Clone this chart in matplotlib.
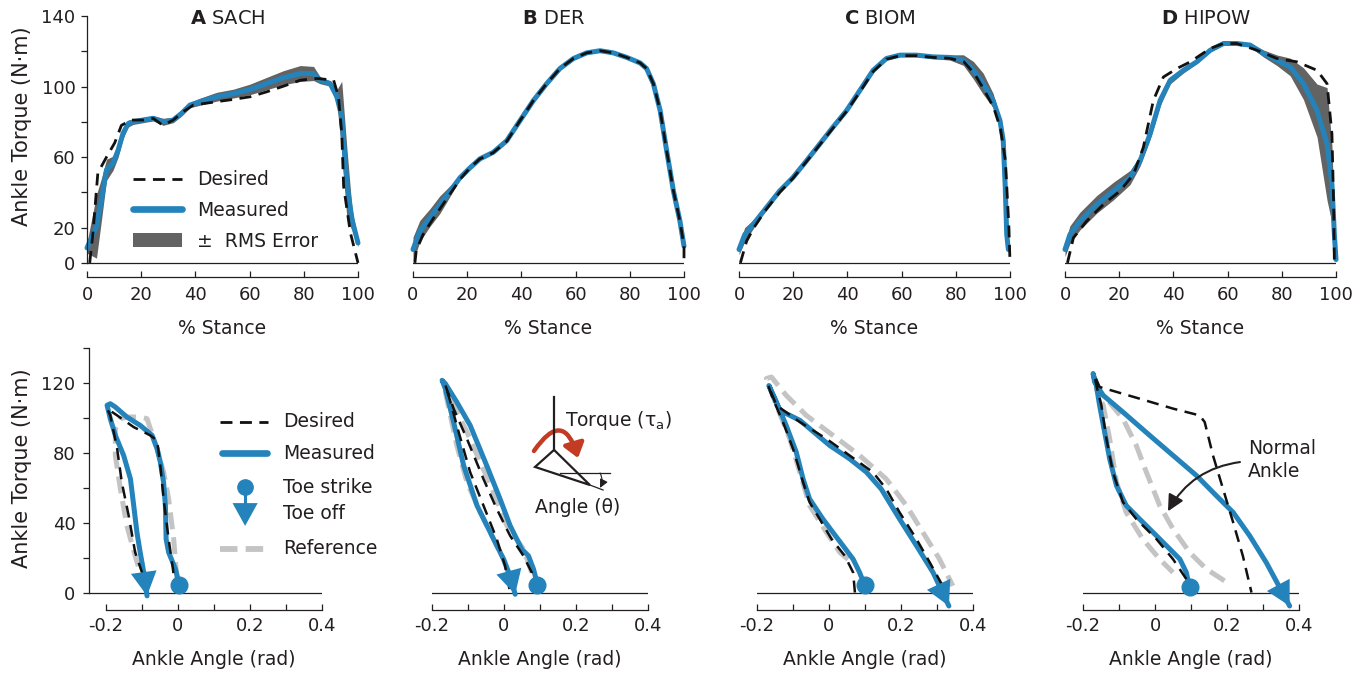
import numpy as np
import matplotlib.pyplot as plt
from matplotlib.lines import Line2D
from matplotlib.patches import Patch, Polygon, FancyArrowPatch

plt.rcParams['font.family'] = ['DejaVu Sans']
plt.rcParams['mathtext.fontset'] = 'dejavusans'

BLUE = '#2383ba'
BAND = '#636363'
REF = '#c4c4c4'
INK = '#231f20'

# ---------------- top row: torque vs % stance ----------------
titles = [('A', 'SACH'), ('B', 'DER'), ('C', 'BIOM'), ('D', 'HIPOW')]

sach_pct = [0, 3.5, 5.3, 7.2, 9.6, 11.5, 13.3, 15.2, 17, 20.7, 24.4, 28.1, 31.8, 34.9, 38, 41.7,
            47.8, 54, 60.2, 66.3, 72.5, 78.7, 83.6, 86, 89.7, 92.2, 94, 95.9, 97.8, 100]
sach_meas = [8.5, 20.7, 35.8, 52.8, 56.5, 64, 73.5, 79, 80, 81, 82, 80, 81, 84.8, 89.5, 91.4,
             94.2, 96, 98.4, 101.7, 105, 107.4, 107.4, 103.6, 101.7, 94.2, 83, 45, 24.5, 11.3]
sach_rms = [3, 18, 12, 6, 4, 4, 3, 2, 1.5, 1.5, 1.5, 2, 1.5, 1.5, 1.5, 2,
            2.5, 2.5, 3, 3.5, 4, 4.5, 4, 2, 1.5, 4, 20, 20, 6, 2]
sach_des_pct = [1, 2.2, 4, 7.2, 10.2, 12.7, 16.3, 20.7, 24.4, 28, 31.8, 35.5, 39.2, 47.8, 54,
                60.2, 66.3, 72.5, 78.7, 84.8, 91, 92.8, 94, 94.7, 97.2, 100]
sach_des = [0, 17, 51, 60, 68, 78, 81, 81, 82, 78, 81, 85.7, 89.5, 91.4, 92.7,
            94.2, 97, 100.2, 103.6, 104.6, 103.6, 94.2, 73.5, 43.3, 17, 0]

der_pct = [0, 2.5, 6.2, 9.9, 13.7, 17.4, 21.1, 24.7, 29.6, 34.6, 39.5, 44.4, 49.3, 54.2, 59.2,
           64.1, 69, 73.9, 78.9, 83.8, 86.2, 88.7, 91.2, 93.6, 96.1, 98.5, 100]
der_meas = [7.6, 18, 25.6, 33, 40.8, 48.4, 54, 59, 62.7, 69.3, 80.7, 92, 101.6, 110.2, 115.9,
            119.1, 120.3, 119.1, 116.5, 113.4, 110.2, 101.6, 86.4, 63.6, 40.8, 23.7, 9.5]
der_rms = [7, 6, 5, 5, 3, 1, 0.8, 0.8, 0.8, 0.8, 0.8, 0.8, 0.8, 0.8, 0.8,
           0.8, 0.8, 0.8, 0.8, 0.8, 0.8, 0.8, 0.8, 0.8, 0.8, 0.8, 0.8]
der_des_pct = [0.7, 1.2, 3.7, 7.4, 12.3, 17.4, 21.1, 24.7, 29.6, 34.6, 39.5, 44.4, 49.3, 54.2,
               59.2, 64.1, 69, 73.9, 78.9, 83.8, 86.2, 88.7, 91.2, 93.6, 96.1, 98.5, 100, 100]
der_des = [0, 7, 16, 25, 36, 47.5, 54, 59, 62.5, 69, 80.7, 92, 101.6, 110.2,
           115.9, 119.1, 120.3, 119.1, 116.5, 113.4, 110.2, 101.6, 86.4, 63.6, 40.8, 23.7, 9.5, 0]

biom_pct = [0, 2.1, 5.2, 10.1, 15, 19.9, 24.9, 29.8, 34.7, 39.7, 44.6, 49.5, 54.4, 59.4, 65.5,
            71.7, 77.8, 82.8, 86.5, 90.1, 93.8, 96.3, 97.5, 98.2, 98.8, 99.4]
biom_meas = [7.6, 16, 21.8, 31.3, 40.8, 48.4, 57.9, 67.4, 77, 86.4, 97.8, 109.2, 115.9, 117.8,
             117.8, 116.8, 116.5, 115, 109.2, 101.6, 92, 80.7, 69.3, 44.6, 16, 7.6]
biom_rms = [3, 4, 2.5, 1, 0.8, 0.8, 0.8, 0.8, 0.8, 0.8, 0.8, 0.8, 0.8, 0.8, 0.8,
            1, 1.5, 3, 5, 6, 4, 2, 1, 1, 1, 1]
biom_des_pct = [0.5, 2.8, 5.5, 10.1, 15, 19.9, 24.9, 29.8, 34.7, 39.7, 44.6, 49.5, 54.4, 59.4,
                65.5, 71.7, 77.8, 83, 87, 90.5, 94, 96.5, 98.3, 99.6, 100]
biom_des = [0, 12.3, 20, 30.5, 40, 48, 57.5, 67, 76.5, 86, 97, 108.5, 115.5, 117.5,
            117.5, 116.5, 116, 114, 107, 98, 88, 76, 58, 20, 0]

hipow_pct = [0, 1.8, 5.5, 11.7, 17.9, 24, 27.7, 31.4, 35.1, 38.8, 43.7, 48.6, 53.6, 58.5, 63.4,
             68.3, 73.3, 78.2, 83.1, 88, 93, 96.7, 98.5, 99.4, 100]
hipow_meas = [7.6, 16, 23.7, 33.2, 40.8, 48.4, 57.9, 73.1, 92.1, 103.5, 109.2, 114, 120.6, 124.4,
              124.4, 123.5, 118.7, 114.9, 111.1, 101.6, 86.4, 67.4, 44.6, 16, 1.9]
hipow_rms = [4, 5, 5, 5, 5, 4, 3, 3, 3, 2, 1.5, 1, 1, 0.8, 0.8,
             1, 2, 3, 5, 9, 15, 32, 22, 10, 2]
hipow_des_pct = [0.9, 3.1, 8, 14.2, 20.3, 25.3, 28.9, 32.6, 36.3, 41.3, 46.2, 53.6, 58.5, 63.4,
                 70.8, 78.2, 85.6, 93, 96.7, 98.5, 99.1, 99.4]
hipow_des = [0, 14.2, 23.7, 33.2, 40.8, 50.3, 65.5, 92.1, 105.4, 110.2, 114, 121.6, 124.4, 124.4,
             120.6, 115.9, 114, 109.2, 101.6, 73.1, 35.1, 0]

# ---------------- bottom row: torque vs ankle angle ----------------
sach_ang = [0.004, -0.007, -0.026, -0.033, -0.035, -0.04, -0.049, -0.058, -0.072, -0.105, -0.142,
            -0.174, -0.188, -0.197, -0.188, -0.174, -0.151, -0.132, -0.123, -0.114, -0.105,
            -0.095, -0.086]
sach_trq = [4.4, 13.4, 23, 30.6, 49.8, 63, 74.6, 82.3, 90, 95.7, 100.5,
            106.2, 108.1, 107.2, 99.5, 90, 78.5, 65, 49.8, 34.4, 23, 11.5, -1.9]
sach_des_ang = [-0.007, -0.014, -0.026, -0.04, -0.049, -0.058, -0.077, -0.123, -0.169, -0.197,
                -0.188, -0.169, -0.156, -0.137, -0.119, -0.1, -0.086]
sach_des_trq = [0, 13.4, 30.6, 53.6, 72.7, 87, 90, 94.7, 101.4, 105.3,
                101.4, 82.3, 63, 44, 23, 11.5, 0]
sach_ref_ang = [-0.003, -0.012, -0.026, -0.04, -0.058, -0.086, -0.105, -0.142, -0.16, -0.174,
                -0.174, -0.16, -0.142, -0.119, -0.105]
sach_ref_trq = [7.7, 30.6, 53.6, 69, 82.3, 99.5, 100.5, 100.5, 99.5, 93.8,
                78.5, 59.3, 38.3, 21, 11.5]

der_ang = [0.093, 0.082, 0.068, 0.049, 0.017, -0.011, -0.048, -0.094, -0.131, -0.163, -0.172,
           -0.163, -0.14, -0.112, -0.075, -0.038, -0.001, 0.017, 0.031]
der_trq = [4.4, 13.4, 21, 24.9, 38.3, 53.6, 72.7, 95.7, 109, 119.6, 121.5,
           116.7, 97.6, 72.7, 49.8, 34.4, 19, 9.6, -1]
der_des_ang = [0.082, 0.077, 0.054, 0.017, -0.02, -0.057, -0.103, -0.14, -0.163, -0.154, -0.126,
               -0.094, -0.057, -0.02, 0.003, 0.017]
der_des_trq = [0, 11.5, 21, 32.5, 47.8, 65, 88, 105.3, 118.7, 112.9, 91.9,
               68.9, 49.8, 30.6, 15.3, 0]
der_ref_ang = [0.077, 0.054, 0.008, -0.029, -0.066, -0.103, -0.14, -0.163, -0.149, -0.131,
               -0.103, -0.066, -0.029, -0.001, 0.017]
der_ref_trq = [11.5, 24.9, 38.3, 57.4, 74.6, 91.9, 107.2, 114.8, 101.4, 84.2,
               63.2, 45.9, 30.6, 19, 7.7]

biom_ang = [0.099, 0.085, 0.067, 0.039, 0.011, -0.017, -0.054, -0.072, -0.091, -0.119, -0.146,
            -0.167, -0.137, -0.081, 0.002, 0.057, 0.104, 0.145, 0.196, 0.243, 0.289, 0.333]
biom_trq = [4.2, 11.5, 19.1, 26.8, 34.4, 42.1, 53.6, 65, 80.4, 95.7, 109,
            118.5, 104.3, 98.6, 84.2, 76.6, 68.9, 59.3, 42.1, 26.8, 11.5, -7.7]
biom_des_ang = [0.072, 0.067, 0.044, 0.007, -0.026, -0.054, -0.072, -0.1, -0.128, -0.156, -0.169,
                -0.146, -0.081, -0.007, 0.057, 0.122, 0.159, 0.196, 0.243, 0.28, 0.326]
biom_des_trq = [0, 11.5, 21, 30.6, 42.1, 51.7, 63.2, 82.3, 97.6, 111, 118.7,
                107.2, 97.6, 88, 78.5, 68.9, 59.3, 45.9, 30.6, 17.2, 0]
biom_ref_ang = [0.053, 0.03, -0.007, -0.054, -0.081, -0.109, -0.146, -0.174, -0.16, -0.119,
                -0.063, 0.011, 0.085, 0.159, 0.215, 0.261, 0.307, 0.344]
biom_ref_trq = [19, 23, 34.4, 49.8, 68.9, 88, 107.2, 122.5, 123.4, 112.9,
                101.4, 90, 78.5, 65, 49.8, 34.4, 19.1, 3.8]

hipow_ang = [0.096, 0.087, 0.069, 0.041, 0.004, -0.043, -0.08, -0.107, -0.126, -0.14, -0.154,
             -0.163, -0.172, -0.168, -0.144, -0.089, -0.015, 0.05, 0.115, 0.17, 0.217, 0.263,
             0.309, 0.374]
hipow_trq = [2.9, 11.5, 19.1, 24.9, 32.5, 42.1, 49.8, 61.2, 76.6, 91.9, 107.2,
             118.7, 125.4, 120.6, 112.9, 103.3, 90, 78.5, 67, 55.5, 45.9, 32.5, 17.2, -7.7]
hipow_des_ang = [0.087, 0.05, 0.004, -0.052, -0.089, -0.117, -0.135, -0.149, -0.163, -0.168,
                 -0.154, -0.043, 0.05, 0.124, 0.138, 0.161, 0.189, 0.217, 0.244, 0.268]
hipow_des_trq = [7.7, 19.1, 30.6, 42.1, 51.7, 68.9, 88, 107.2, 118.7, 124.4,
                 117.7, 111, 105.3, 101.4, 97.6, 78.5, 59.3, 40.2, 21, 0]
hipow_ref_ang = [0.193, 0.143, 0.096, 0.05, 0.013, -0.024, -0.052, -0.089, -0.135, -0.163,
                 -0.144, -0.126, -0.107, -0.08, -0.034, 0.013, 0.05]
hipow_ref_trq = [6.7, 13.4, 23, 36.4, 49.8, 68.9, 84.2, 99.5, 111, 116.7,
                 107.2, 88, 63.2, 45.9, 30.6, 19.1, 11.5]

stance = [(sach_pct, sach_meas, sach_rms, sach_des_pct, sach_des),
          (der_pct, der_meas, der_rms, der_des_pct, der_des),
          (biom_pct, biom_meas, biom_rms, biom_des_pct, biom_des),
          (hipow_pct, hipow_meas, hipow_rms, hipow_des_pct, hipow_des)]
loops = [(sach_ang, sach_trq, sach_des_ang, sach_des_trq, sach_ref_ang, sach_ref_trq),
         (der_ang, der_trq, der_des_ang, der_des_trq, der_ref_ang, der_ref_trq),
         (biom_ang, biom_trq, biom_des_ang, biom_des_trq, biom_ref_ang, biom_ref_trq),
         (hipow_ang, hipow_trq, hipow_des_ang, hipow_des_trq, hipow_ref_ang, hipow_ref_trq)]

DES_STYLE = dict(color='#111111', lw=2.0, ls=(0, (4.3, 2.7)))
MEAS_STYLE = dict(color=BLUE, lw=3.6, solid_capstyle='round', solid_joinstyle='round')
REF_STYLE = dict(color=REF, lw=3.6, ls=(0, (3.4, 1.6)))

fig = plt.figure(figsize=(13.66, 6.75), dpi=100)

top_lefts = [0.06369, 0.30234, 0.54100, 0.77965]
bot_lefts = [0.06515, 0.31625, 0.55417, 0.79283]


def style_spines(ax, show_left):
    for s in ['top', 'right']:
        ax.spines[s].set_visible(False)
    for s in ['left', 'bottom']:
        ax.spines[s].set_color(INK)
        ax.spines[s].set_linewidth(0.9)
    if not show_left:
        ax.spines['left'].set_visible(False)
        ax.set_yticks([])


for i, (pct, meas, rms, dpct, des) in enumerate(stance):
    ax = fig.add_axes([top_lefts[i], 0.58963, 0.19839, 0.38667])
    meas = np.array(meas)
    rms = np.array(rms)
    ax.fill_between(pct, np.clip(meas - rms, 0, None), meas + rms, color=BAND, lw=0, zorder=1)
    ax.axhline(0, color=INK, lw=0.9, zorder=1.5)
    ax.plot(pct, meas, zorder=2, clip_on=False, **MEAS_STYLE)
    ax.plot(dpct, des, zorder=3, clip_on=False, **DES_STYLE)
    ax.set_xlim(0, 100)
    ax.set_ylim(-8, 140)
    style_spines(ax, i == 0)
    ax.spines['bottom'].set_bounds(0, 100)
    ax.set_xticks(range(0, 101, 20))
    ax.tick_params(axis='x', direction='in', length=4, width=0.9, pad=6.5,
                   labelsize=13, colors=INK)
    ax.set_xlabel('% Stance', fontsize=13.5, color=INK)
    ax.xaxis.set_label_coords(0.5, -0.16)
    letter, name = titles[i]
    ax.text(52, 138.5, r'$\mathbf{%s}$ %s' % (letter, name), ha='center', va='center',
            fontsize=14, color=INK)
    if i == 0:
        ax.spines['left'].set_bounds(0, 140)
        ax.set_yticks(range(0, 141, 20))
        ax.set_yticklabels(['0', '20', '', '60', '', '100', '', '140'])
        ax.tick_params(axis='y', direction='out', length=4, width=0.9, pad=4.3,
                       labelsize=13, colors=INK)
        ax.set_ylabel('Ankle Torque (N·m)', fontsize=15, color=INK)
        ax.yaxis.set_label_coords(-0.203, 0.577)
        handles = [Line2D([], [], **DES_STYLE),
                   Line2D([], [], color=BLUE, lw=4.8, solid_capstyle='round'),
                   Patch(color=BAND, lw=0)]
        ax.legend(handles, ['Desired', 'Measured', '±  RMS Error'], loc='center left',
                  bbox_to_anchor=(0.170, 0.255), frameon=False, fontsize=13.5,
                  borderpad=0, borderaxespad=0, handlelength=2.6, handletextpad=0.8,
                  labelspacing=0.62, labelcolor=INK)

for i, (ang, trq, dang, dtrq, rang, rtrq) in enumerate(loops):
    width = 0.17057 if i == 0 else 0.15813
    ax = fig.add_axes([bot_lefts[i], 0.09630, width, 0.38815])
    ax.plot(rang, rtrq, zorder=1.6, **REF_STYLE)
    ax.axhline(0, color=INK, lw=0.9, zorder=1.5)
    ax.plot(ang, trq, zorder=2, clip_on=False, **MEAS_STYLE)
    ax.plot(dang, dtrq, zorder=3, color='#111111', lw=1.8, ls=(0, (4.8, 3.0)))
    ax.plot(ang[0], trq[0], 'o', ms=12, color=BLUE, zorder=4, clip_on=False)
    ax.annotate('', xy=(ang[-1], trq[-1]), xytext=(ang[-2], trq[-2]),
                arrowprops=dict(arrowstyle='-|>,head_length=1.15,head_width=0.62',
                                mutation_scale=15, fc=BLUE, ec=BLUE, lw=0,
                                shrinkA=0, shrinkB=0),
                annotation_clip=False, zorder=4)
    ax.set_xlim(-0.2472 if i == 0 else -0.2, 0.4)
    ax.set_ylim(-10, 140)
    style_spines(ax, i == 0)
    ax.spines['bottom'].set_bounds(-0.2, 0.4)
    ax.set_xticks(np.round(np.arange(-0.2, 0.41, 0.1), 1))
    ax.set_xticklabels(['-0.2', '', '0', '', '0.2', '', '0.4'])
    ax.tick_params(axis='x', direction='in', length=4, width=0.9, pad=5,
                   labelsize=13, colors=INK)
    ax.set_xlabel('Ankle Angle (rad)', fontsize=13.5, color=INK)
    ax.xaxis.set_label_coords(0.536 if i == 0 else 0.5, -0.152)
    if i == 0:
        ax.spines['left'].set_bounds(0, 140)
        ax.set_yticks(range(0, 141, 20))
        ax.set_yticklabels(['0', '', '40', '', '80', '', '120', ''])
        ax.tick_params(axis='y', direction='out', length=4, width=0.9, pad=5.8,
                       labelsize=13, colors=INK)
        ax.set_ylabel('Ankle Torque (N·m)', fontsize=15, color=INK)
        ax.yaxis.set_label_coords(-0.245, 0.542)

        # hand-made legend
        tr = ax.transAxes
        ax.plot([0.562, 0.768], [0.718, 0.718], transform=tr, clip_on=False,
                color='#111111', lw=2.0, ls=(0, (4.3, 2.7)))
        ax.plot([0.570, 0.764], [0.599, 0.599], transform=tr, clip_on=False,
                color=BLUE, lw=4.8, solid_capstyle='round')
        ax.plot([0.670, 0.670], [0.469, 0.408], transform=tr, clip_on=False,
                color=BLUE, lw=2.2)
        ax.plot([0.670], [0.469], 'o', ms=11, color=BLUE, transform=tr, clip_on=False)
        ax.add_patch(Polygon([(0.616, 0.408), (0.724, 0.408), (0.670, 0.321)], closed=True,
                             color=BLUE, lw=0, transform=tr, clip_on=False))
        ax.plot([0.562, 0.768], [0.233, 0.233], transform=tr, clip_on=False,
                color=REF, lw=4.2, ls=(0, (3.0, 1.4)))
        for label, fy in [('Desired', 0.718), ('Measured', 0.599), ('Toe strike', 0.469),
                          ('Toe off', 0.370), ('Reference', 0.233)]:
            ax.text(0.833, fy, label, transform=tr, fontsize=13.5, color=INK,
                    va='center', ha='left')

    if i == 1:
        # ankle sketch
        tr = ax.transAxes
        ax.plot([0.565, 0.565], [0.611, 0.813], transform=tr, color=INK, lw=1.6)
        ax.add_patch(Polygon([(0.565, 0.611), (0.477, 0.546), (0.731, 0.477)], closed=True,
                             fill=False, ec=INK, lw=1.6, joinstyle='miter', transform=tr))
        ax.plot([0.593, 0.824], [0.523, 0.523], transform=tr, color=INK, lw=0.9)
        ax.plot([0.731, 0.792], [0.477, 0.458], transform=tr, color=INK, lw=0.9)
        ax.annotate('', xy=(0.778, 0.466), xytext=(0.778, 0.523), xycoords=tr,
                    arrowprops=dict(arrowstyle='-|>,head_length=0.5,head_width=0.25',
                                    mutation_scale=10, color=INK, lw=0.8,
                                    shrinkA=0, shrinkB=0,
                                    connectionstyle='arc3,rad=-0.25'))
        ax.add_patch(FancyArrowPatch((0.472, 0.607), (0.676, 0.580), transform=tr,
                                     connectionstyle='arc3,rad=-1.05',
                                     arrowstyle='-|>,head_length=0.6,head_width=0.45',
                                     mutation_scale=14, color='#c23b22', lw=3.2,
                                     shrinkA=0, shrinkB=0))
        ax.text(0.616, 0.725, r'Torque (τ$_\mathregular{a}$)', transform=tr,
                fontsize=13.5, color=INK, va='center', ha='left')
        ax.text(0.477, 0.393, 'Angle (θ)', transform=tr, fontsize=13.5, color=INK,
                va='center', ha='left')

    if i == 3:
        ax.text(0.258, 76, 'Normal\nAnkle', fontsize=13.5, color=INK, ha='left',
                va='center', linespacing=1.3)
        ax.annotate('', xy=(0.036, 46.5), xytext=(0.236, 74.7),
                    arrowprops=dict(arrowstyle='-|>,head_length=0.7,head_width=0.35',
                                    mutation_scale=14, color=INK, lw=1.5,
                                    shrinkA=0, shrinkB=0,
                                    connectionstyle='arc3,rad=0.25'))

fig.savefig('out.png', dpi=100)
